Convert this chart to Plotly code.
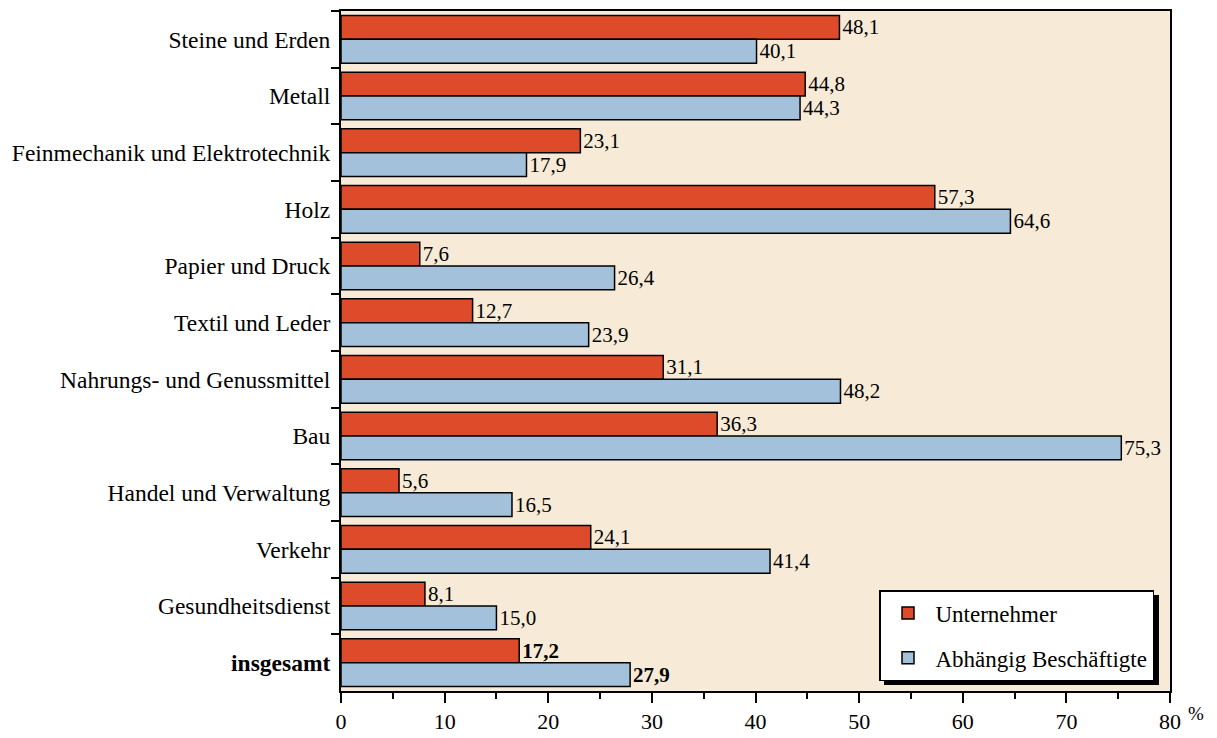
import plotly.graph_objects as go

# ── Data ────────────────────────────────────────────────────────
CATEGORIES = [
    "Steine und Erden",
    "Metall",
    "Feinmechanik und Elektrotechnik",
    "Holz",
    "Papier und Druck",
    "Textil und Leder",
    "Nahrungs- und Genussmittel",
    "Bau",
    "Handel und Verwaltung",
    "Verkehr",
    "Gesundheitsdienst",
    "<b>insgesamt</b>",
]
UNTERNEHMER = [48.1, 44.8, 23.1, 57.3, 7.6, 12.7, 31.1, 36.3, 5.6, 24.1, 8.1, 17.2]
ABHAENGIG = [40.1, 44.3, 17.9, 64.6, 26.4, 23.9, 48.2, 75.3, 16.5, 41.4, 15.0, 27.9]
X_TICKS = [0, 10, 20, 30, 40, 50, 60, 70, 80]

# ── Styling ─────────────────────────────────────────────────────
RED = "#DD4B2B"
BLUE = "#A3C1DA"
BG = "#F7EBD7"
FONT = "Liberation Serif, Times New Roman, serif"


def _labels(values):
    """German decimal comma, last entry (insgesamt) in bold."""
    out = [f"{v:.1f}".replace(".", ",") for v in values]
    out[-1] = f"<b>{out[-1]}</b>"
    return out


fig = go.Figure()
for name, vals, col, grp in [
    ("Unternehmer", UNTERNEHMER, RED, "a"),
    ("Abhängig Beschäftigte", ABHAENGIG, BLUE, "b"),
]:
    fig.add_trace(go.Bar(
        name=name,
        y=CATEGORIES,
        x=vals,
        orientation="h",
        marker=dict(color=col, line=dict(color="black", width=1.5)),
        text=_labels(vals),
        textposition="outside",
        textfont=dict(family=FONT, size=21, color="black"),
        constraintext="none",
        cliponaxis=True,
        legendgroup=grp,
    ))

fig.update_layout(
    width=1217,
    height=738,
    barmode="group",
    bargap=0.16,
    bargroupgap=0,
    paper_bgcolor="white",
    plot_bgcolor=BG,
    font=dict(family=FONT, size=22, color="black"),
    margin=dict(l=333, r=55, t=3, b=55),
    legend=dict(
        x=0.9807, y=0.1485, xanchor="right", yanchor="top",
        bgcolor="white", bordercolor="black", borderwidth=1.5,
        font=dict(family=FONT, size=23),
        traceorder="grouped", tracegroupgap=12,
        itemwidth=45,
    ),
    shapes=[
        # drop shadow behind the legend box
        dict(type="rect", xref="paper", yref="paper",
             x0=0.655, x1=0.9867, y0=0.0088, y1=0.1412,
             fillcolor="black", line=dict(width=0), layer="above"),
    ],
    annotations=[
        dict(text="%", xref="paper", yref="paper", x=1.043, y=-0.052,
             showarrow=False, font=dict(family=FONT, size=19)),
    ],
)

fig.update_xaxes(
    range=[0, 80],
    tickvals=X_TICKS,
    ticks="outside", ticklen=10, tickwidth=1.5, tickcolor="black",
    minor=dict(dtick=5, ticks="outside", ticklen=6, tickwidth=1.5, tickcolor="black"),
    ticklabelstandoff=0,
    showline=True, linecolor="black", linewidth=2, mirror=True,
    showgrid=False, zeroline=False, automargin=False,
    tickfont=dict(family=FONT, size=22),
)
fig.update_yaxes(
    autorange="reversed",
    tickson="boundaries",
    ticks="outside", ticklen=8, tickwidth=1.5, tickcolor="black",
    ticklabelstandoff=4,
    showline=True, linecolor="black", linewidth=2, mirror=True,
    showgrid=False, automargin=False,
    tickfont=dict(family=FONT, size=23.5),
)

fig.write_html("out.html")
